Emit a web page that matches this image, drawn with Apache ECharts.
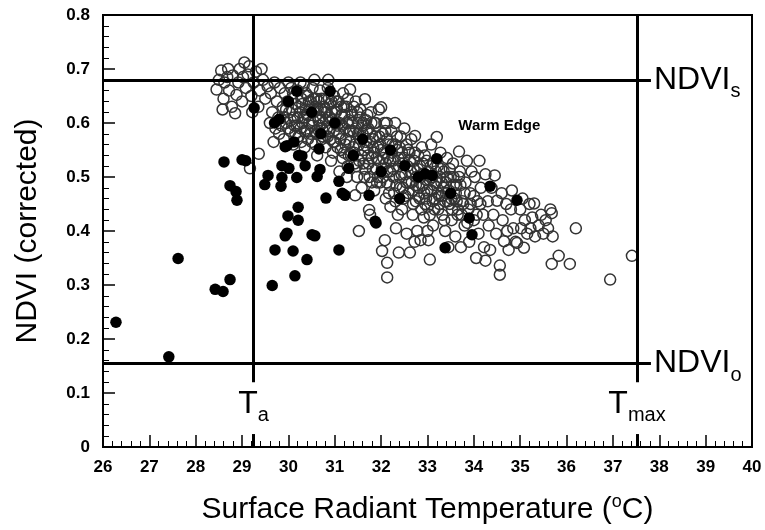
<!DOCTYPE html>
<html>
<head>
<meta charset="utf-8">
<script src="https://cdn.jsdelivr.net/npm/echarts@6/dist/echarts.min.js"></script>
<style>
  html, body { margin: 0; padding: 0; background: #fff; }
  #main { width: 765px; height: 530px; }
</style>
</head>
<body>
<div id="main"></div>
<script>
// reference lines
var T_A = 29.25;
var T_MAX = 37.52;
var NDVI_S = 0.68;
var NDVI_O = 0.155;
var H_LINE_END = 37.82;

// open circles
var openCoolGroup = [
    [28.45,0.662],[28.5,0.68],[28.55,0.697],[28.6,0.645],[28.62,0.675],[28.7,0.70],[28.72,0.66],[28.78,0.63],
    [28.8,0.688],[28.85,0.618],[28.88,0.652],[28.92,0.675],[28.95,0.70],[29.0,0.64],[29.05,0.712],[29.08,0.665],
    [29.12,0.69],[29.15,0.705],[29.2,0.65],[29.25,0.675],[29.3,0.695],[29.35,0.63],[29.38,0.66],[29.42,0.70],
    [29.45,0.68],[29.5,0.645],[29.55,0.668],[28.58,0.625],[28.68,0.685],[29.02,0.685],[29.22,0.62],[29.36,0.543],
    [29.17,0.516]
];
var openBandWest = [
    [29.6,0.60],[29.62,0.655],[29.65,0.62],[29.7,0.675],[29.72,0.59],[29.75,0.64],[29.8,0.58],[29.78,0.61],[29.68,0.565],[29.82,0.665],
    [29.88,0.63],[29.9,0.57],[29.92,0.655],[29.95,0.60],[30.0,0.675],[30.02,0.62],[30.05,0.585],[30.08,0.645],[30.1,0.56],[30.12,0.61],[29.98,0.64],[30.06,0.665],
    [30.15,0.635],[30.18,0.595],[30.2,0.66],[30.22,0.575],[30.25,0.62],[30.28,0.645],[30.3,0.60],[30.33,0.67],[30.35,0.555],[30.38,0.625],[30.4,0.585],[30.42,0.65],[30.26,0.675],[30.36,0.61],
    [30.45,0.60],[30.48,0.64],[30.5,0.565],[30.52,0.665],[30.55,0.62],[30.58,0.585],[30.6,0.645],[30.62,0.54],[30.65,0.605],[30.68,0.66],[30.7,0.625],[30.72,0.57],[30.56,0.68],[30.66,0.585],
    [30.75,0.60],[30.78,0.645],[30.8,0.555],[30.82,0.62],[30.85,0.665],[30.88,0.585],[30.9,0.635],[30.92,0.53],[30.95,0.605],[30.98,0.65],[31.0,0.565],[31.02,0.62],[30.86,0.68],[30.96,0.545],
    [31.05,0.595],[31.08,0.64],[31.1,0.51],[31.12,0.57],[31.15,0.615],[31.18,0.655],[31.2,0.545],[31.22,0.59],[31.25,0.63],[31.28,0.52],[31.3,0.605],[31.33,0.662],[31.32,0.565],[31.26,0.50]
];
var openBandMid = [
    [31.36,0.62],[31.4,0.585],[31.42,0.545],[31.45,0.64],[31.48,0.50],[31.5,0.60],[31.52,0.56],[31.55,0.625],[31.58,0.48],[31.6,0.58],[31.62,0.525],[31.65,0.644],[31.44,0.466],[31.52,0.40],[31.68,0.605],
    [31.7,0.555],[31.72,0.59],[31.74,0.439],[31.75,0.50],[31.78,0.62],[31.8,0.535],[31.82,0.57],[31.85,0.475],[31.88,0.60],[31.9,0.515],[31.92,0.555],[31.76,0.43],[31.95,0.625],
    [31.98,0.49],[32.0,0.629],[32.02,0.363],[32.03,0.58],[32.05,0.535],[32.08,0.383],[32.1,0.46],[32.12,0.60],[32.14,0.51],[32.13,0.341],[32.13,0.314],[32.16,0.56],[32.2,0.445],[32.22,0.585],[32.18,0.485],
    [32.25,0.53],[32.28,0.47],[32.3,0.60],[32.32,0.405],[32.35,0.55],[32.38,0.36],[32.4,0.50],[32.42,0.575],[32.45,0.44],[32.48,0.525],[32.5,0.59],[32.52,0.465],[32.55,0.395],[32.36,0.43],
    [32.58,0.55],[32.6,0.49],[32.62,0.36],[32.65,0.57],[32.68,0.43],[32.7,0.515],[32.73,0.576],[32.75,0.455],[32.78,0.40],[32.8,0.54],[32.82,0.48],[32.85,0.383],[32.72,0.38],
    [32.88,0.555],[32.9,0.505],[32.92,0.425],[32.95,0.45],[32.98,0.53],[33.0,0.475],[33.02,0.383],[33.05,0.347],[33.08,0.56],[33.1,0.50],[33.12,0.41],[33.15,0.44],[33.0,0.40]
];
var openCore = [
    [29.85,0.595],[29.95,0.625],[30.05,0.605],[30.1,0.655],[30.15,0.58],[30.22,0.63],[30.28,0.565],[30.32,0.61],[30.38,0.655],[30.42,0.57],
    [30.46,0.625],[30.5,0.595],[30.54,0.645],[30.58,0.56],[30.63,0.625],[30.67,0.595],[30.71,0.645],[30.74,0.575],[30.78,0.62],[30.83,0.59],
    [30.87,0.645],[30.91,0.57],[30.94,0.62],[30.98,0.585],[31.03,0.64],[31.06,0.555],[31.1,0.60],[31.14,0.63],[31.17,0.535],[31.21,0.615],
    [31.24,0.57],[31.28,0.645],[31.31,0.585],[31.35,0.54],[31.38,0.60],[31.41,0.63],[31.44,0.56],[31.47,0.52],[31.5,0.58],[31.54,0.61],
    [31.57,0.54],[31.61,0.60],[31.64,0.50],[31.67,0.565],[31.7,0.615],[31.73,0.525],[31.77,0.58],[31.8,0.49],[31.83,0.555],[31.86,0.60],
    [31.9,0.535],[31.93,0.50],[31.96,0.575],[32.0,0.55],[32.04,0.50],[32.07,0.60],[32.1,0.525],[32.13,0.57],[32.17,0.47],[32.2,0.53],
    [32.24,0.56],[32.27,0.50],[32.31,0.455],[32.34,0.575],[32.38,0.52],[32.41,0.48],[32.45,0.545],[32.48,0.46],[32.52,0.505],[32.55,0.56],
    [32.59,0.47],[32.62,0.53],[32.66,0.49],[32.69,0.45],[32.73,0.545],[32.76,0.50],[32.8,0.465],[32.84,0.52],[32.87,0.44],[32.91,0.485],
    [32.94,0.54],[32.97,0.46],[33.01,0.51],[33.05,0.43],[33.08,0.475],[33.12,0.525],[33.16,0.46],[33.19,0.49],[33.23,0.44],[33.27,0.50],
    [33.31,0.465],[33.36,0.42],[33.4,0.49],[33.44,0.455],[33.48,0.515],[33.53,0.44],[33.57,0.485],[33.63,0.455],[33.68,0.50],[33.74,0.43],
    [33.8,0.47],[33.86,0.415],[33.93,0.45],[34.0,0.465],[34.06,0.43],[34.14,0.45]
];
var openCoreDense = [
    [29.9,0.61],[30.0,0.59],[30.08,0.625],[30.13,0.595],[30.2,0.61],[30.26,0.59],[30.3,0.635],[30.35,0.585],[30.4,0.615],[30.44,0.64],
    [30.48,0.58],[30.53,0.605],[30.57,0.63],[30.61,0.58],[30.65,0.64],[30.69,0.61],[30.73,0.59],[30.77,0.63],[30.81,0.605],[30.85,0.575],
    [30.89,0.61],[30.93,0.64],[30.97,0.565],[31.01,0.60],[31.05,0.625],[31.09,0.58],[31.13,0.55],[31.16,0.595],[31.2,0.63],[31.23,0.56],
    [31.27,0.60],[31.3,0.54],[31.34,0.585],[31.37,0.615],[31.4,0.555],[31.43,0.525],[31.46,0.59],[31.49,0.62],[31.53,0.53],[31.56,0.57],
    [31.59,0.595],[31.63,0.55],[31.66,0.515],[31.69,0.585],[31.72,0.54],[31.76,0.565],[31.79,0.6],[31.82,0.515],[31.85,0.545],[31.88,0.575],
    [31.91,0.49],[31.95,0.53],[31.98,0.56],[32.02,0.515],[32.06,0.545],[32.09,0.585],[32.12,0.49],[32.15,0.535],[32.19,0.51],[32.23,0.545],
    [32.26,0.515],[32.3,0.56],[32.33,0.485],[32.37,0.535],[32.4,0.555],[32.44,0.505],[32.47,0.48],[32.5,0.535],[32.54,0.49],[32.57,0.52],
    [32.61,0.545],[32.64,0.51],[32.68,0.475],[32.71,0.53],[32.75,0.485],[32.79,0.515],[32.83,0.46],[32.86,0.50],[32.9,0.525],[32.93,0.47],
    [32.97,0.495],[33.0,0.445],[33.04,0.495],[33.07,0.52],[33.11,0.455],[33.14,0.485],[33.18,0.51],[33.22,0.47],[33.26,0.45],[33.3,0.515],
    [33.34,0.48],[33.38,0.455],[33.42,0.50],[33.46,0.475],[33.51,0.46],[33.56,0.50],[33.61,0.47],[33.66,0.44],[33.71,0.485],[33.77,0.45]
];
var openBandEast = [
    [33.2,0.574],[33.22,0.52],[33.25,0.465],[33.28,0.545],[33.3,0.49],[33.32,0.43],[33.35,0.51],[33.38,0.40],[33.4,0.47],[33.42,0.535],[33.45,0.37],[33.48,0.45],
    [33.5,0.50],[33.52,0.42],[33.55,0.525],[33.58,0.46],[33.6,0.39],[33.62,0.485],[33.65,0.43],[33.68,0.547],[33.7,0.51],[33.72,0.37],[33.75,0.455],[33.8,0.41],
    [33.82,0.49],[33.85,0.53],[33.88,0.44],[33.9,0.38],[33.92,0.47],[33.95,0.51],[34.0,0.42],[34.02,0.50],[34.05,0.35],[34.08,0.455],[34.1,0.395],[34.12,0.53],
    [34.15,0.48],[34.2,0.43],[34.22,0.37],[34.25,0.505],[34.3,0.455],[34.32,0.41],[34.35,0.365],[34.38,0.48],[34.42,0.43],[34.45,0.503],[34.48,0.395],[34.5,0.456],[34.56,0.336],[34.56,0.319],[34.25,0.345],
    [34.6,0.47],[34.62,0.42],[34.65,0.381],[34.7,0.45],[34.72,0.40],[34.75,0.365],[34.8,0.44],[34.82,0.475],[34.85,0.405],[34.9,0.38],[34.93,0.378],
    [35.0,0.44],[35.02,0.405],[35.05,0.46],[35.08,0.369],[35.1,0.42],[35.15,0.395],[35.2,0.45],[35.22,0.405],[35.26,0.425],[35.3,0.451],[35.32,0.39],
    [35.4,0.41],[35.45,0.43],[35.5,0.395],[35.55,0.42],[35.6,0.405],[35.65,0.44],[35.68,0.433],[35.7,0.39],[35.68,0.339],[35.83,0.354]
];
var openTail = [[36.07,0.339],[36.2,0.405],[36.94,0.31],[37.41,0.354]];

// filled circles
var filledCoolSide = [
    [26.28,0.231],[27.42,0.167],[27.62,0.349],[28.42,0.292],[28.59,0.288],[28.74,0.31],
    [28.61,0.528],[29.0,0.532],[29.08,0.530],[28.74,0.484],[28.87,0.473],[28.89,0.457],[29.26,0.628]
];
var filledBand = [
    [29.56,0.503],[29.49,0.486],[29.84,0.483],[29.86,0.521],[29.86,0.499],[30.01,0.516],[30.18,0.499],[30.29,0.539],
    [30.36,0.521],[30.62,0.501],[30.68,0.514],[30.81,0.461],[30.21,0.444],[29.99,0.428],[30.21,0.42],[29.97,0.396],
    [29.93,0.391],[30.51,0.393],[30.57,0.391],[29.71,0.365],[30.1,0.363],[30.4,0.347],[30.14,0.317],[29.65,0.299],
    [29.97,0.558],[30.22,0.54],[30.66,0.552],[30.18,0.659],[30.9,0.659],[31.3,0.516],[31.09,0.492],[31.22,0.466],
    [31.74,0.466],[31.87,0.418],[31.09,0.365],[33.2,0.534],[33.1,0.503],[32.51,0.521],[33.9,0.424],[33.96,0.393],
    [33.38,0.369],[34.35,0.483],[34.93,0.457],[32.95,0.506],[31.89,0.415],[31.16,0.470],[29.8,0.607],[29.7,0.60],
    [29.93,0.556],[30.12,0.565],[30.5,0.62],[31.0,0.60],[31.6,0.57],[32.2,0.55],[32.8,0.50],[30.0,0.64],[30.7,0.58],
    [31.4,0.54],[32.0,0.51],[33.5,0.47],[32.4,0.46]
];

var FONT = "'Liberation Sans', Arial, sans-serif";

var openData = openCoolGroup.concat(openBandWest, openBandMid, openCore, openCoreDense, openBandEast, openTail);
var filledData = filledCoolSide.concat(filledBand);

var myChart = echarts.init(document.getElementById('main'), null, { renderer: 'canvas' });

var refLines = [
    [{ coord: [26, NDVI_S] }, { coord: [H_LINE_END, NDVI_S], label: { show: true, formatter: '{m|NDVI}{s|s}' } }],
    [{ coord: [26, NDVI_O] }, { coord: [H_LINE_END, NDVI_O], label: { show: true, formatter: '{m|NDVI}{s|o}' } }],
    [{ coord: [T_A, 0.8] }, { coord: [T_A, 0.12] }],
    [{ coord: [T_A, 0] }, { coord: [T_A, 0.024] }],
    [{ coord: [T_MAX, 0.8] }, { coord: [T_MAX, 0.12] }],
    [{ coord: [T_MAX, 0] }, { coord: [T_MAX, 0.024] }]
];

var subRich = {
    m: { fontSize: 32, fontFamily: FONT, color: '#000', lineHeight: 44 },
    s: { fontSize: 20, fontFamily: FONT, color: '#000', lineHeight: 20, verticalAlign: 'bottom' }
};

var option = {
    animation: false,
    backgroundColor: '#fff',
    grid: {
        left: 103, right: 13, top: 15, bottom: 79,
        show: true, borderColor: '#000', borderWidth: 2
    },
    xAxis: {
        type: 'value', min: 26, max: 40, interval: 1,
        axisLine: { lineStyle: { color: '#000', width: 2 } },
        axisTick: { inside: true, length: 12, lineStyle: { color: '#000', width: 1.5 } },
        minorTick: { show: true, splitNumber: 5, length: 6, lineStyle: { color: '#000', width: 1 } },
        splitLine: { show: false },
        axisLabel: { color: '#000', fontSize: 17, fontWeight: 'bold', fontFamily: FONT, margin: 12 },
        name: '{t|Surface Radiant Temperature (}{o|o}{t|C)}',
        nameLocation: 'middle', nameGap: 46,
        nameTextStyle: {
            rich: {
                t: { fontSize: 30, fontFamily: FONT, color: '#000', lineHeight: 34 },
                o: { fontSize: 18, fontFamily: FONT, color: '#000', lineHeight: 18, verticalAlign: 'top' }
            }
        }
    },
    yAxis: {
        type: 'value', min: 0, max: 0.8, interval: 0.1,
        axisLine: { lineStyle: { color: '#000', width: 2 } },
        axisTick: { inside: true, length: 12, lineStyle: { color: '#000', width: 1.5 } },
        minorTick: { show: true, splitNumber: 5, length: 6, lineStyle: { color: '#000', width: 1 } },
        splitLine: { show: false },
        axisLabel: {
            color: '#000', fontSize: 17, fontWeight: 'bold', fontFamily: FONT, margin: 13,
            formatter: function (v) { return v === 0 ? '0' : v.toFixed(1); }
        },
        name: 'NDVI (corrected)',
        nameLocation: 'middle', nameGap: 60,
        nameTextStyle: { fontSize: 30, fontFamily: FONT, color: '#000' }
    },
    series: [
        {
            name: 'open', type: 'scatter', data: openData, symbol: 'circle', symbolSize: 11,
            itemStyle: { color: 'rgba(0,0,0,0)', borderColor: '#333', borderWidth: 1.5, opacity: 1 },
            z: 2
        },
        {
            name: 'filled', type: 'scatter', data: filledData, symbol: 'circle', symbolSize: 11.5,
            itemStyle: { color: '#000', opacity: 1 },
            z: 3
        },
        {
            name: 'refs', type: 'line', data: [], z: 4,
            markLine: {
                silent: true, symbol: 'none', animation: false,
                lineStyle: { color: '#000', width: 3, type: 'solid' },
                label: { show: false, position: 'end', distance: 3, rich: subRich },
                emphasis: { disabled: true },
                data: refLines
            }
        },
        {
            name: 'labels', type: 'scatter', symbolSize: 0, z: 5, silent: true,
            itemStyle: { opacity: 1 },
            data: [
                { value: [T_A, 0.08], label: { formatter: '{m|T}{s|a}' } },
                { value: [T_MAX, 0.08], label: { formatter: '{m|T}{s|max}' } },
                { value: [34.55, 0.594], label: { formatter: 'Warm Edge', fontSize: 15, fontWeight: 'bold', fontFamily: FONT, color: '#000' } }
            ],
            label: { show: true, position: 'inside', color: '#000', opacity: 1, rich: subRich }
        }
    ]
};

myChart.setOption(option);
</script>
</body>
</html>
